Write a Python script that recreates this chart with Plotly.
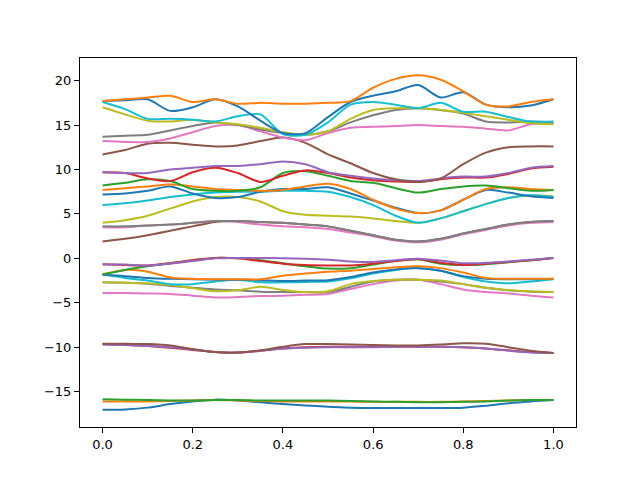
import plotly.graph_objects as go

x_vals = [0.0, 0.05, 0.1, 0.15, 0.2, 0.25, 0.3, 0.35, 0.4, 0.45, 0.5,
          0.55, 0.6, 0.65, 0.7, 0.75, 0.8, 0.85, 0.9, 0.95, 1.0]

line_00 = [-17.05, -17.0, -16.8, -16.4, -16.1, -15.9, -16.0, -16.2, -16.4, -16.55, -16.7, -16.8, -16.85, -16.85, -16.85, -16.85, -16.8, -16.6, -16.3, -16.1, -15.95]
line_01 = [-16.1, -16.1, -16.1, -16.05, -16.0, -15.95, -16.0, -16.05, -16.1, -16.1, -16.1, -16.1, -16.15, -16.15, -16.15, -16.15, -16.1, -16.05, -16.0, -15.95, -15.95]
line_02 = [-15.85, -15.9, -15.95, -16.0, -16.0, -15.95, -15.95, -16.0, -16.0, -16.0, -16.0, -16.05, -16.1, -16.15, -16.2, -16.2, -16.15, -16.1, -16.0, -15.95, -15.95]
line_03 = [-9.65, -9.75, -9.85, -10.05, -10.3, -10.55, -10.6, -10.4, -10.15, -10.0, -9.95, -9.95, -9.95, -9.95, -9.95, -9.95, -10.0, -10.15, -10.35, -10.55, -10.65]
line_04 = [-9.7, -9.75, -9.85, -10.0, -10.25, -10.55, -10.6, -10.4, -10.15, -10.05, -10.0, -10.0, -10.0, -9.95, -9.95, -9.95, -10.0, -10.15, -10.4, -10.6, -10.65]
line_05 = [-9.6, -9.6, -9.65, -9.8, -10.2, -10.55, -10.6, -10.35, -9.95, -9.65, -9.65, -9.7, -9.75, -9.8, -9.8, -9.7, -9.55, -9.6, -10.0, -10.4, -10.65]
line_06 = [-3.9, -3.9, -3.95, -4.0, -4.2, -4.4, -4.35, -4.25, -4.2, -4.1, -4.0, -3.45, -2.9, -2.5, -2.4, -2.9, -3.5, -3.8, -3.95, -4.2, -4.4]
line_07 = [-2.7, -2.75, -2.85, -3.1, -3.3, -3.5, -3.6, -3.75, -3.8, -3.8, -3.8, -3.2, -2.6, -2.4, -2.4, -2.6, -2.9, -3.3, -3.6, -3.75, -3.8]
line_08 = [-2.7, -2.75, -2.8, -3.0, -3.35, -3.7, -3.6, -3.2, -3.55, -3.8, -3.7, -2.9, -2.55, -2.4, -2.4, -2.5, -2.9, -3.3, -3.55, -3.7, -3.8]
line_09 = [-1.8, -2.2, -2.5, -2.9, -2.9, -2.6, -2.4, -2.7, -2.7, -2.65, -2.6, -2.25, -1.7, -1.3, -1.1, -1.4, -2.1, -2.6, -2.8, -2.6, -2.35]
line_10 = [-1.85, -2.0, -2.2, -2.3, -2.35, -2.4, -2.4, -2.45, -2.55, -2.5, -2.45, -2.1, -1.6, -1.25, -1.1, -1.4, -2.0, -2.3, -2.35, -2.35, -2.3]
line_11 = [-1.8, -1.3, -1.5, -2.15, -2.3, -2.35, -2.35, -2.35, -1.95, -1.7, -1.5, -1.4, -1.2, -1.0, -0.9, -1.1, -1.6, -2.2, -2.3, -2.3, -2.3]
line_12 = [-1.8, -1.3, -0.9, -0.55, -0.2, 0.05, 0.0, -0.2, -0.55, -0.9, -1.15, -1.1, -0.7, -0.3, -0.1, -0.6, -0.75, -0.65, -0.45, -0.2, 0.05]
line_13 = [-0.65, -0.75, -0.8, -0.55, -0.2, 0.05, 0.0, -0.3, -0.6, -0.75, -0.8, -0.8, -0.6, -0.3, -0.1, -0.5, -0.75, -0.6, -0.4, -0.2, 0.05]
line_14 = [-0.65, -0.7, -0.8, -0.6, -0.3, 0.0, 0.05, 0.05, 0.0, -0.05, -0.15, -0.35, -0.4, -0.2, -0.05, -0.25, -0.55, -0.5, -0.35, -0.15, 0.05]
line_15 = [1.9, 2.2, 2.6, 3.1, 3.6, 4.1, 4.2, 4.1, 4.0, 3.8, 3.6, 3.1, 2.6, 2.1, 1.9, 2.2, 2.8, 3.3, 3.8, 4.1, 4.2]
line_16 = [3.5, 3.5, 3.7, 3.8, 4.0, 4.2, 4.1, 3.8, 3.6, 3.5, 3.3, 2.9, 2.5, 2.0, 1.8, 2.1, 2.7, 3.2, 3.7, 4.0, 4.1]
line_17 = [3.6, 3.6, 3.7, 3.8, 4.0, 4.2, 4.2, 4.1, 4.0, 3.8, 3.6, 3.1, 2.6, 2.1, 1.9, 2.2, 2.8, 3.3, 3.8, 4.1, 4.2]
line_18 = [4.0, 4.3, 4.8, 5.6, 6.4, 6.9, 6.9, 6.4, 5.3, 4.9, 4.8, 4.7, 4.5, 4.2, 4.0, 4.5, 5.3, 6.1, 6.8, 7.1, 7.0]
line_19 = [6.0, 6.2, 6.5, 6.9, 7.2, 7.4, 7.5, 7.5, 7.6, 7.6, 7.5, 6.9, 6.0, 4.8, 4.0, 4.5, 5.3, 6.1, 6.8, 7.1, 6.9]
line_20 = [7.2, 7.3, 7.6, 8.1, 7.3, 6.8, 6.9, 7.5, 7.8, 7.8, 8.0, 7.3, 6.5, 5.7, 5.1, 5.4, 6.6, 7.7, 7.4, 7.0, 6.8]
line_21 = [7.7, 7.9, 8.1, 8.3, 8.1, 7.8, 7.7, 7.6, 7.7, 8.1, 8.4, 7.8, 6.6, 5.6, 5.1, 5.4, 6.6, 7.8, 8.0, 7.8, 7.7]
line_22 = [8.2, 8.5, 8.9, 8.7, 7.8, 7.6, 7.6, 8.0, 9.6, 9.8, 9.3, 8.7, 8.5, 7.9, 7.4, 7.8, 8.1, 8.2, 7.9, 7.6, 7.7]
line_23 = [9.7, 9.6, 9.0, 8.7, 9.7, 10.2, 9.6, 8.6, 9.3, 9.9, 9.6, 9.1, 8.8, 8.65, 8.6, 8.9, 9.1, 9.1, 9.5, 10.1, 10.3]
line_24 = [9.7, 9.6, 9.6, 10.0, 10.2, 10.4, 10.4, 10.6, 10.9, 10.6, 9.7, 9.3, 9.0, 8.8, 8.7, 9.0, 9.2, 9.2, 9.6, 10.2, 10.4]
line_25 = [11.7, 12.2, 12.9, 13.0, 12.8, 12.6, 12.7, 13.2, 13.6, 13.0, 11.7, 10.7, 9.6, 8.9, 8.6, 9.0, 10.6, 11.9, 12.5, 12.6, 12.6]
line_26 = [13.2, 13.1, 13.1, 13.5, 14.2, 14.9, 15.0, 14.3, 13.6, 13.3, 14.1, 14.7, 14.8, 14.9, 15.0, 14.9, 14.8, 14.6, 14.4, 15.1, 15.2]
line_27 = [13.7, 13.8, 13.9, 14.4, 14.9, 15.3, 15.0, 14.5, 14.1, 13.9, 14.3, 15.3, 16.1, 16.7, 16.9, 16.7, 16.3, 15.4, 15.3, 15.4, 15.3]
line_28 = [17.0, 16.2, 15.5, 15.4, 15.6, 15.3, 15.1, 14.7, 14.2, 13.9, 14.3, 15.7, 16.7, 16.9, 16.9, 16.7, 16.4, 16.0, 15.6, 15.2, 15.1]
line_29 = [17.6, 16.8, 15.7, 15.7, 15.6, 15.4, 16.0, 16.2, 14.0, 13.9, 15.3, 17.3, 17.6, 17.3, 16.9, 17.5, 16.5, 16.5, 15.9, 15.4, 15.4]
line_30 = [17.7, 17.8, 17.9, 16.6, 17.0, 17.9, 17.1, 15.5, 14.1, 14.1, 15.9, 17.6, 18.3, 18.8, 19.5, 18.1, 18.7, 17.3, 17.0, 17.2, 17.9]
line_31 = [17.7, 17.9, 18.1, 18.3, 17.6, 17.9, 17.4, 17.5, 17.4, 17.4, 17.5, 17.7, 19.2, 20.2, 20.6, 20.1, 18.8, 17.3, 17.1, 17.6, 17.9]

series = [line_00, line_01, line_02, line_03, line_04, line_05, line_06, line_07,
          line_08, line_09, line_10, line_11, line_12, line_13, line_14, line_15,
          line_16, line_17, line_18, line_19, line_20, line_21, line_22, line_23,
          line_24, line_25, line_26, line_27, line_28, line_29, line_30, line_31]

palette = ["#1f77b4", "#ff7f0e", "#2ca02c", "#d62728", "#9467bd",
           "#8c564b", "#e377c2", "#7f7f7f", "#bcbd22", "#17becf"]

x_ticks = [0.0, 0.2, 0.4, 0.6, 0.8, 1.0]
x_tick_labels = ["0.0", "0.2", "0.4", "0.6", "0.8", "1.0"]
y_ticks = [-15, -10, -5, 0, 5, 10, 15, 20]
y_tick_labels = ["\u221215", "\u221210", "\u22125", "0", "5", "10", "15", "20"]

fig = go.Figure()
for i, ys in enumerate(series):
    fig.add_trace(go.Scatter(
        x=x_vals, y=ys, mode="lines",
        line=dict(color=palette[i % 10], width=2, shape="spline", smoothing=0.8),
        showlegend=False, hoverinfo="skip"))

axis_common = dict(
    showline=True, mirror=True, linecolor="black", linewidth=1,
    ticks="outside", ticklen=5, tickwidth=1, tickcolor="black",
    showgrid=False, zeroline=False,
    tickfont=dict(family="DejaVu Sans", size=13, color="black"),
)

fig.update_layout(
    width=632, height=472,
    margin=dict(l=72, r=64, t=50, b=53, pad=0),
    paper_bgcolor="white", plot_bgcolor="white",
    xaxis=dict(range=[-0.05, 1.05], tickvals=x_ticks, ticktext=x_tick_labels, **axis_common),
    yaxis=dict(range=[-18.98, 22.55], tickvals=y_ticks, ticktext=y_tick_labels, **axis_common),
)

fig.write_html("out.html")
